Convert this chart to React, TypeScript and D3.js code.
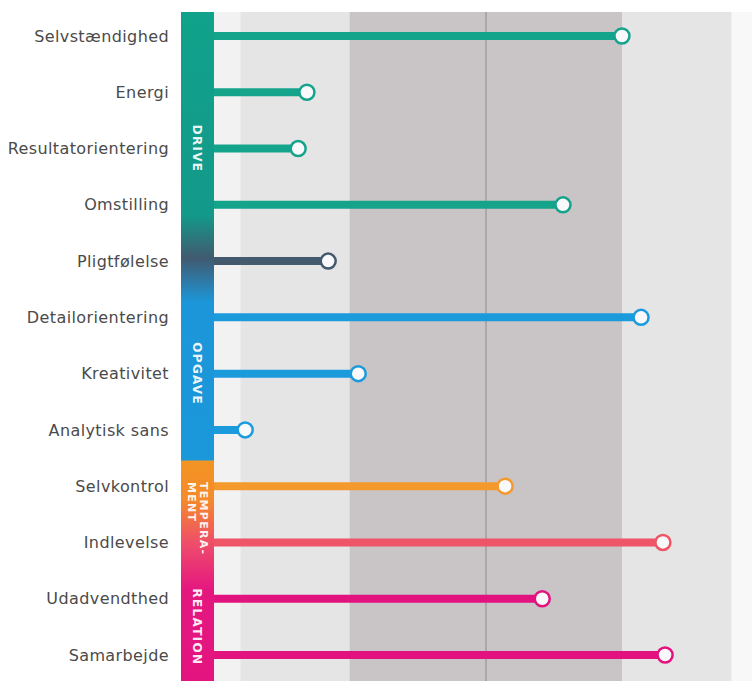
import React from 'react';
import * as d3 from 'd3';

const traits = [
  'Selvstændighed', 'Energi', 'Resultatorientering', 'Omstilling', 'Pligtfølelse',
  'Detailorientering', 'Kreativitet', 'Analytisk sans', 'Selvkontrol', 'Indlevelse',
  'Udadvendthed', 'Samarbejde',
];
const scores = [7.49, 1.72, 1.56, 6.41, 2.11, 7.84, 2.66, 0.59, 5.35, 8.24, 6.03, 8.28];
const lineColors = [
  '#14a38b', '#14a38b', '#14a38b', '#14a38b', '#435a6e',
  '#1c9bdc', '#1c9bdc', '#1c9bdc', '#f49a2c', '#ee5566',
  '#e2137f', '#e2137f',
];

const groups = [
  { lines: ['DRIVE'], from: 0, to: 4 },
  { lines: ['OPGAVE'], from: 5, to: 7 },
  { lines: ['TEMPERA-', 'MENT'], from: 8, to: 9 },
  { lines: ['RELATION'], from: 10, to: 11 },
];

// score bands: [from, to, fill]
const bands: [number, number, string][] = [
  [0, 0.5, '#f3f2f3'],
  [0.5, 2.5, '#e6e5e6'],
  [2.5, 7.5, '#c9c4c5'],
  [7.5, 9.5, '#e6e5e6'],
  [9.5, 10, '#f8f8f8'],
];

const W = 752;
const H = 681;
const FONT = "'DejaVu Sans', Verdana, sans-serif";

export default function App() {
  const x = d3.scaleLinear().domain([0, 10]).range([213, 759]);
  const y = d3.scalePoint<string>().domain(traits).range([36, 655]);
  const top = 12;
  const barX0 = 181;
  const barX1 = 214;
  const barMid = (barX0 + barX1) / 2;

  const yOf = (i: number) => y(traits[i]) as number;

  return (
    <div style={{ position: 'absolute', left: 0, top: 0 }}>
      <svg width={W} height={H} style={{ display: 'block', background: '#fff' }}>
        <defs>
          <linearGradient id="barGrad" gradientUnits="userSpaceOnUse" x1="0" y1={top} x2="0" y2={H}>
            <stop offset={0} stopColor="#10a28b" />
            <stop offset={(215 - top) / (H - top)} stopColor="#13998a" />
            <stop offset={(258 - top) / (H - top)} stopColor="#415a70" />
            <stop offset={(302 - top) / (H - top)} stopColor="#1c96d8" />
            <stop offset={(460 - top) / (H - top)} stopColor="#1a98da" />
            <stop offset={(461 - top) / (H - top)} stopColor="#f39423" />
            <stop offset={(500 - top) / (H - top)} stopColor="#f48a2c" />
            <stop offset={(545 - top) / (H - top)} stopColor="#ee4b6c" />
            <stop offset={(590 - top) / (H - top)} stopColor="#e4177f" />
            <stop offset={1} stopColor="#e3147f" />
          </linearGradient>
        </defs>

        {bands.map(([a, b, fill], i) => (
          <rect key={i} x={x(a)} y={top} width={x(b) - x(a)} height={H - top} fill={fill} />
        ))}
        <line x1={x(5)} x2={x(5)} y1={top} y2={H} stroke="#8f8a8b" strokeWidth={1} />

        {traits.map((t, i) => (
          <g key={t}>
            <line
              x1={barX1 - 2}
              x2={x(scores[i])}
              y1={yOf(i)}
              y2={yOf(i)}
              stroke={lineColors[i]}
              strokeWidth={8}
            />
            <circle
              cx={x(scores[i])}
              cy={yOf(i)}
              r={7.5}
              fill="#f9f9fc"
              stroke={lineColors[i]}
              strokeWidth={2.5}
            />
            <text
              x={169}
              y={yOf(i)}
              dy="0.35em"
              textAnchor="end"
              style={{ fontFamily: FONT, fontSize: 16, letterSpacing: 0.4 }}
              fill="#4a4a4a"
            >
              {t}
            </text>
          </g>
        ))}

        <rect x={barX0} y={top} width={barX1 - barX0} height={H - top} fill="url(#barGrad)" />

        {groups.map((g) => {
          const cy = (yOf(g.from) + yOf(g.to)) / 2;
          const multi = g.lines.length > 1;
          return (
            <g key={g.lines.join('')} transform={`translate(${barMid},${multi ? 482 : cy}) rotate(90)`}>
              {g.lines.map((l, k) => (
                <text
                  key={l}
                  x={0}
                  y={multi ? (k === 0 ? -2 : 10) : 0}
                  dy={multi ? 0 : '0.35em'}
                  textAnchor={multi ? 'start' : 'middle'}
                  style={{ fontFamily: FONT, fontWeight: 'bold', fontSize: multi ? 11 : 12, letterSpacing: 1.3 }}
                  fill="#ffffff"
                  fillOpacity={0.92}
                >
                  {l}
                </text>
              ))}
            </g>
          );
        })}
      </svg>
    </div>
  );
}
